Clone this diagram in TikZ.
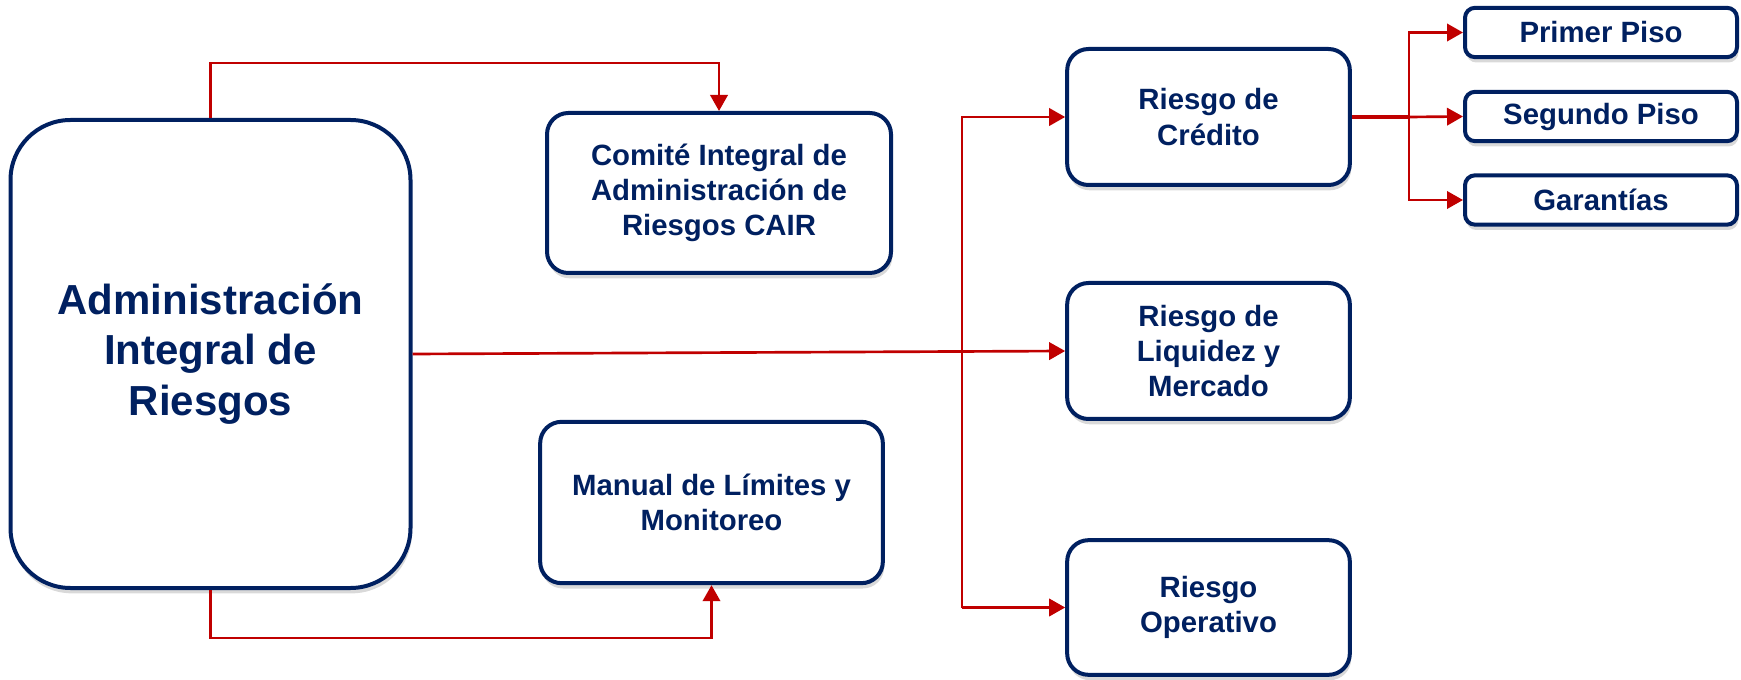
\documentclass[tikz,border=0pt]{standalone}
\usepackage{fontspec}
\setmainfont{Liberation Sans}
\usetikzlibrary{arrows.meta,shadows}
\definecolor{navy}{RGB}{0,32,96}
\definecolor{riskred}{RGB}{192,0,0}

\begin{document}
\begin{tikzpicture}[x=0.75pt,y=-0.75pt,
  box/.style={draw=navy,line width=3pt,fill=white,rounded corners=16pt,align=center,text=navy,
    font=\bfseries\fontsize{22}{26.5}\selectfont,inner sep=0pt,
    drop shadow={shadow xshift=1pt,shadow yshift=-4pt,opacity=0.3}},
  link/.style={draw=riskred,line width=2pt},
  arr/.style={link,-{Triangle[length=12pt,width=13pt]}}]
\useasboundingbox (0,0) rectangle (1741,680);
\node (air) at (210.5,354) [box,rounded corners=45pt,minimum width=300pt,minimum height=351pt,
  font=\bfseries\fontsize{31.5}{38}\selectfont] {Administración\\Integral de\\Riesgos};
\node (cair) at (719,193) [box,minimum width=258pt,minimum height=120pt] {Comité Integral de\\Administración de\\Riesgos CAIR};
\node (manual) at (711.5,502.5) [box,minimum width=257pt,minimum height=121pt] {Manual de Límites y\\Monitoreo};
\node (credito) at (1208.5,117) [box,minimum width=212pt,minimum height=102pt] {Riesgo de\\Crédito};
\node (liquidez) at (1208.5,351) [box,minimum width=212pt,minimum height=102pt] {Riesgo de\\Liquidez y\\Mercado};
\node (operativo) at (1208.5,607.5) [box,minimum width=212pt,minimum height=101pt] {Riesgo\\Operativo};
\node (primer) at (1601,32.5) [box,rounded corners=7.5pt,minimum width=204pt,minimum height=37pt] {Primer Piso};
\node (segundo) at (1601,116.5) [box,rounded corners=7.5pt,minimum width=204pt,minimum height=37pt] {Segundo Piso};
\node (garantias) at (1601,200) [box,rounded corners=7.5pt,minimum width=204pt,minimum height=37pt] {Garantías};
\coordinate (spine) at (962,0);
% lines from the main box
\draw[arr] (air.north) -- ++(0,-55) -| (cair.north);
\draw[arr] (air.south) -- ++(0,48) -| (manual.south);
\draw[arr] (air.east) -- (liquidez.west);
\draw[arr] (spine |- operativo.west) |- (credito.west);
\draw[arr] (spine |- operativo.west) -- (operativo.west);
% credit branches
\draw[link,line width=2.6pt] (credito.east) -- ++(57,0) coordinate (fork);
\draw[arr] (fork) |- (primer.west);
\draw[arr] (fork) -- (segundo.west);
\draw[arr] (fork) |- (garantias.west);
\end{tikzpicture}
\end{document}
